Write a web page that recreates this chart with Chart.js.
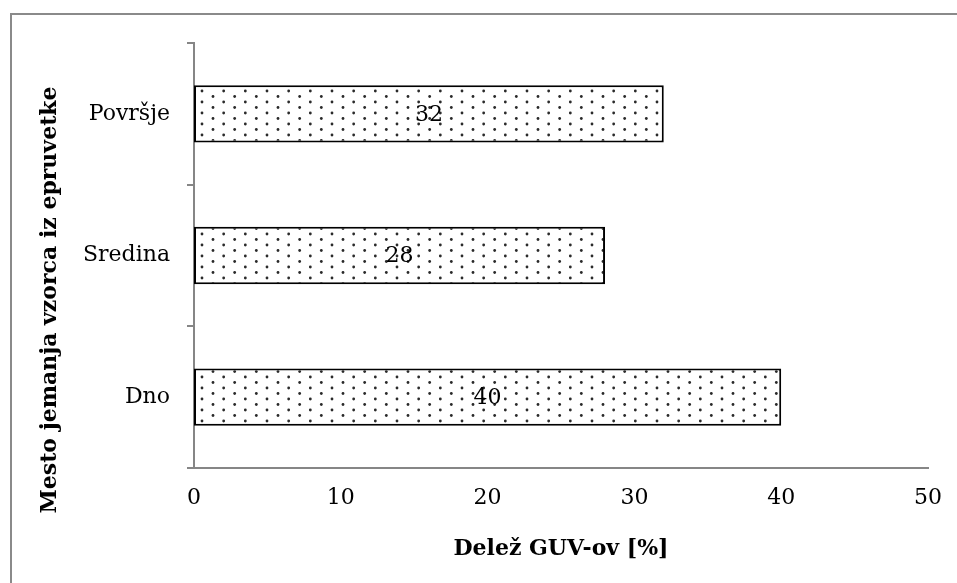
<!DOCTYPE html>
<html>
<head>
<meta charset="utf-8">
<script src="https://cdn.jsdelivr.net/npm/chart.js@4.4.1/dist/chart.umd.min.js"></script>
<style>
  html, body { margin: 0; padding: 0; background: #ffffff; }
  #wrap { position: relative; width: 957px; height: 583px; }
</style>
</head>
<body>
<div id="wrap"><canvas id="c" width="957" height="583"></canvas></div>
<script>
// Sampling position in the test tube and share of GUVs found there
const categories = ['Površje', 'Sredina', 'Dno'];
const shares = [32, 28, 40];
const xTicks = [0, 10, 20, 30, 40, 50];
const xTitle = 'Delež GUV-ov [%]';
const yTitle = 'Mesto jemanja vzorca iz epruvetke';

const FONT = "'DejaVu Serif', serif";
const AXIS_GRAY = '#868686';

// Dotted fill used for the bars: staggered rows, ~21.7 px between dots in a row
function dotPattern() {
  const t = document.createElement('canvas');
  t.width = 65; t.height = 11;
  const g = t.getContext('2d');
  g.fillStyle = '#ffffff';
  g.fillRect(0, 0, 65, 11);
  g.fillStyle = '#2a2a2a';
  const step = 65 / 3;
  for (let k = 0; k < 3; k++) {
    [[7 + k * step, 3], [18 + k * step, 8.5]].forEach(([x, y]) => {
      g.beginPath(); g.arc(x, y, 1.4, 0, Math.PI * 2); g.fill();
    });
  }
  return g.createPattern(t, 'repeat');
}

// Frame around the whole chart
const framePlugin = {
  id: 'frame',
  beforeDraw(chart) {
    const ctx = chart.ctx;
    ctx.save();
    ctx.fillStyle = '#ffffff';
    ctx.fillRect(0, 0, chart.width, chart.height);
    ctx.strokeStyle = '#8a8a8a';
    ctx.lineWidth = 2;
    ctx.beginPath();
    ctx.moveTo(11, chart.height);
    ctx.lineTo(11, 14);
    ctx.lineTo(chart.width, 14);
    ctx.stroke();
    ctx.restore();
  }
};

// Rotated title of the category axis
const yTitlePlugin = {
  id: 'yTitle',
  afterDraw(chart) {
    const ctx = chart.ctx;
    ctx.save();
    ctx.translate(50, 300);
    ctx.rotate(-Math.PI / 2);
    ctx.font = 'bold 22px ' + FONT;
    ctx.fillStyle = '#000000';
    ctx.textAlign = 'center';
    ctx.textBaseline = 'middle';
    ctx.fillText(yTitle, 0, 0);
    ctx.restore();
  }
};

// Value written in the middle of each bar
const valueLabels = {
  id: 'valueLabels',
  afterDatasetsDraw(chart) {
    const ctx = chart.ctx;
    const meta = chart.getDatasetMeta(0);
    const data = chart.data.datasets[0].data;
    ctx.save();
    ctx.font = '22px ' + FONT;
    ctx.fillStyle = '#000000';
    ctx.textAlign = 'center';
    ctx.textBaseline = 'middle';
    meta.data.forEach((bar, i) => {
      const cx = (bar.x + bar.base) / 2;
      ctx.fillText(String(data[i]), cx, bar.y + 1);
    });
    ctx.restore();
  }
};

new Chart(document.getElementById('c'), {
  type: 'bar',
  data: {
    labels: categories,
    datasets: [{
      data: shares,
      backgroundColor: dotPattern(),
      borderColor: '#000000',
      borderWidth: 2,
      borderSkipped: false,
      barPercentage: 0.405,
      categoryPercentage: 1.0
    }]
  },
  options: {
    indexAxis: 'y',
    responsive: false,
    animation: false,
    events: [],
    layout: { padding: { left: 20, right: 29, top: 43, bottom: 0 } },
    plugins: {
      legend: { display: false },
      tooltip: { enabled: false }
    },
    scales: {
      x: {
        min: 0,
        max: 50,
        afterBuildTicks(scale) { scale.ticks = xTicks.map(v => ({ value: v })); },
        afterFit(scale) { scale.height = 583 - 468; },
        grid: { display: false },
        border: { display: true, color: AXIS_GRAY, width: 2 },
        ticks: {
          color: '#000000',
          font: { family: FONT, size: 22 },
          padding: 9
        },
        title: {
          display: true,
          text: xTitle,
          color: '#000000',
          font: { family: FONT, size: 22, weight: 'bold' },
          padding: { top: 6, bottom: 21 }
        }
      },
      y: {
        offset: true,
        afterFit(scale) { scale.width = 194 - 20; },
        grid: {
          display: true,
          offset: true,
          drawOnChartArea: false,
          drawTicks: true,
          tickLength: 7,
          color: AXIS_GRAY,
          lineWidth: 2
        },
        border: { display: true, color: AXIS_GRAY, width: 2 },
        ticks: {
          color: '#000000',
          font: { family: FONT, size: 22 },
          padding: 17
        },
        title: { display: false }
      }
    }
  },
  plugins: [framePlugin, yTitlePlugin, valueLabels]
});
</script>
</body>
</html>
